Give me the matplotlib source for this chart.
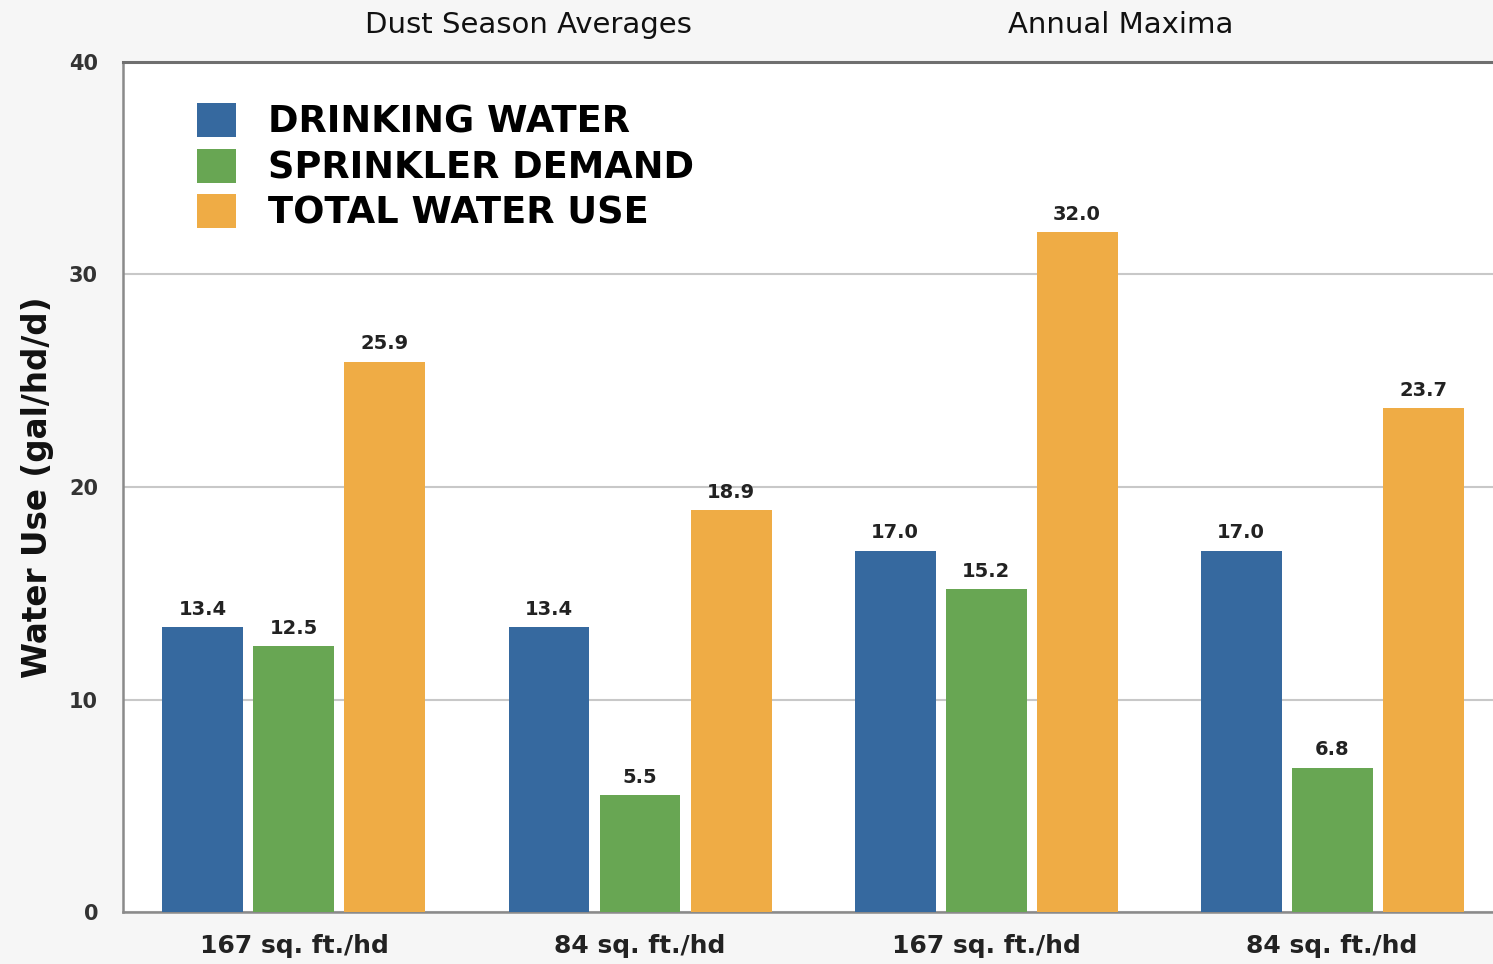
import matplotlib
matplotlib.use('Agg')
import matplotlib.pyplot as plt
import numpy as np

# data
groups = ['167 sq. ft./hd', '84 sq. ft./hd', '167 sq. ft./hd', '84 sq. ft./hd']
drinking = [13.4, 13.4, 17.0, 17.0]
sprinkler = [12.5, 5.5, 15.2, 6.8]
total = [25.9, 18.9, 32.0, 23.7]
series_names = ['DRINKING WATER', 'SPRINKLER DEMAND', 'TOTAL WATER USE']
colors = ['#36699f', '#68a653', '#efac45']
section_titles = ['Dust Season Averages', 'Annual Maxima']

plt.rcParams['font.family'] = ['DejaVu Sans']

fig = plt.figure(figsize=(14.93, 9.64), dpi=100, facecolor='#f6f6f6')
ax = fig.add_axes([0.0824, 0.0539, 0.9176, 0.8818])
ax.set_facecolor('white')

x = np.arange(len(groups))
w = 0.234
step = 0.263
for i, (vals, name, c) in enumerate(zip([drinking, sprinkler, total], series_names, colors)):
    b = ax.bar(x + (i - 1) * step, vals, w, color=c, label=name, zorder=3)
    ax.bar_label(b, fmt='%.1f', padding=6, fontsize=14, fontweight='bold', color='#222222')

ax.set_xlim(-0.494, 3.465)
ax.set_ylim(0, 40)
ax.set_yticks([0, 10, 20, 30, 40])
ax.set_xticks(x)
ax.set_xticklabels(groups, fontsize=18, fontweight='bold', color='#222222')
ax.tick_params(axis='x', length=0, pad=16)
ax.tick_params(axis='y', length=0, pad=18, labelsize=15, labelcolor='#333333')
for lab in ax.get_yticklabels():
    lab.set_fontweight('bold')

ax.yaxis.grid(True, color='#c8c8c8', linewidth=1.5, zorder=0)
ax.set_axisbelow(True)
ax.spines['top'].set_color('#6f6f6f')
ax.spines['top'].set_linewidth(2.2)
ax.spines['left'].set_color('#8a8a8a')
ax.spines['left'].set_linewidth(1.8)
ax.spines['bottom'].set_color('#8a8a8a')
ax.spines['bottom'].set_linewidth(1.8)
ax.spines['right'].set_visible(False)

ax.set_ylabel('Water Use (gal/hd/d)', fontsize=23.5, fontweight='bold', labelpad=11, color='#111111')

ax.text(0.296, 1.043, section_titles[0], transform=ax.transAxes, ha='center', va='center', fontsize=21, color='#111111')
ax.text(0.728, 1.043, section_titles[1], transform=ax.transAxes, ha='center', va='center', fontsize=21, color='#111111')

ax.legend(loc='upper left', bbox_to_anchor=(0.054, 0.952), frameon=False,
          prop={'weight': 'bold', 'size': 26.5},
          handlelength=1.05, handleheight=1.05, handletextpad=0.87,
          labelspacing=0.22, borderpad=0, borderaxespad=0)

fig.savefig('out.png', dpi=100, facecolor=fig.get_facecolor())
